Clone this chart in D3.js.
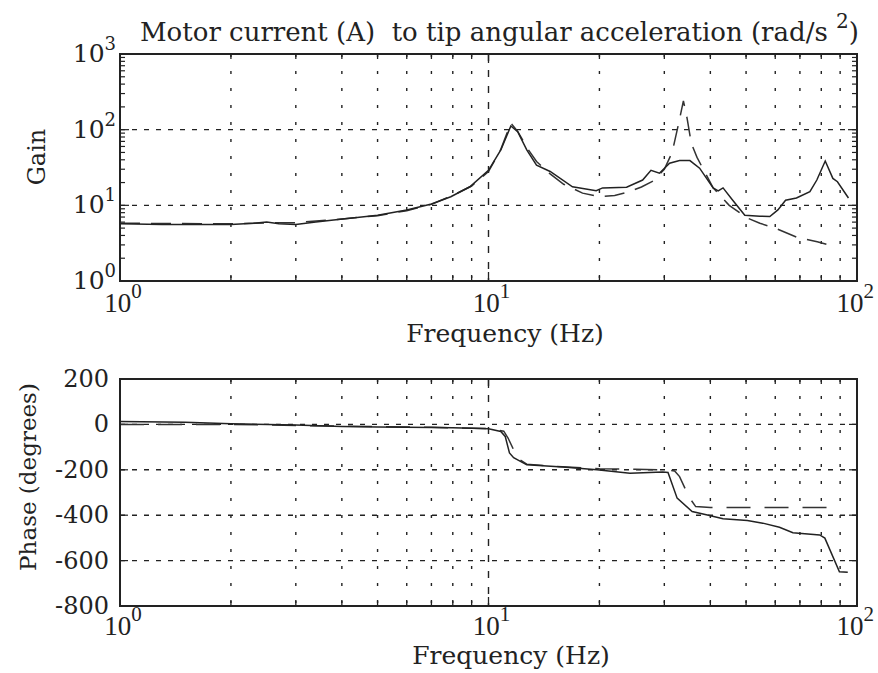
<!DOCTYPE html>
<html>
<head>
<meta charset="utf-8">
<script src="https://cdn.jsdelivr.net/npm/d3@7"></script>
<style>
body { margin: 0; background: #fff; }
</style>
</head>
<body>
<div id="chart"></div>
<script>

// measured gain (solid)
var freqGainMeas = [1.0, 1.3, 1.6, 2.0, 2.3, 2.5, 2.7, 3.0, 3.4, 3.8, 4.4, 5.0, 6.0, 7.0, 7.9, 8.9, 10.0, 10.8, 11.5, 12.0, 12.7, 13.5, 14.7, 16.9, 19.6, 20.4, 23.7, 26.2, 27.6, 29.1, 31, 33, 35.2, 37.4, 40.7, 42.0, 43.3, 46, 49.6, 54.5, 58, 61, 64, 68.5, 74.5, 77.8, 82, 86, 88.5, 94.8];
var gainMeas     = [5.7, 5.6, 5.6, 5.6, 5.8, 6.0, 5.7, 5.6, 6.0, 6.4, 6.9, 7.4, 8.7, 10.4, 13, 17.6, 29, 54, 112, 94, 54, 34, 28, 17.6, 15.6, 17, 17.4, 21.6, 29, 26.6, 36, 39, 39, 31, 17, 15.5, 17, 11.7, 7.4, 7.2, 7.1, 8.7, 11.7, 12.5, 15.2, 21.6, 38.5, 22.7, 20.5, 12.5];

// model gain (dashed)
var freqGainModel = [1.0, 2.0, 2.6, 3.0, 4.0, 5.0, 6.0, 7.0, 8.0, 9.0, 10.0, 10.8, 11.5, 12.0, 12.8, 13.5, 14.7, 16.0, 18.0, 20.0, 22.0, 24.0, 26.0, 28.0, 30.0, 31.5, 32.8, 33.8, 34.6, 35.5, 36.8, 40.7, 45, 50.4, 54.5, 60.6, 68.5, 78, 86];
var gainModel     = [5.8, 5.7, 5.9, 5.9, 6.6, 7.3, 8.5, 10.3, 13.5, 18, 28, 55, 122, 95, 55, 38, 26, 19, 14.5, 13, 13.5, 15, 17.5, 21, 30, 50, 120, 240, 140, 66, 43, 17, 10, 6.8, 5.8, 4.9, 3.8, 3.3, 2.9];

// measured phase (solid)
var freqPhaseMeas = [1.0, 1.5, 2.0, 3.0, 4.0, 5.0, 7.1, 8.0, 9.0, 10.0, 10.8, 11.1, 11.4, 11.7, 12.7, 15.9, 19.7, 24.2, 29.7, 30.7, 32.5, 35.7, 39, 43.3, 50.4, 55.5, 61.6, 67, 79.2, 81.8, 89.6, 94.4];
var phaseMeas     = [13, 10, 3, -3, -9, -11, -14, -15, -17, -19, -31, -53, -126, -147, -178, -188, -200, -215, -210, -212, -325, -384, -398, -416, -423, -435, -453, -477, -487, -501, -649, -651];

// model phase (dashed)
var freqPhaseModel = [1.0, 2.0, 4.0, 7.0, 10.0, 11.0, 11.3, 12.0, 12.7, 15, 20, 25, 30, 32.0, 33.0, 35.0, 36.5, 40, 60, 88];
var phaseModel     = [0, 0, -8, -13, -18, -30, -60, -150, -175, -185, -195, -198, -200, -205, -230, -320, -362, -366, -366, -366];

var gridFreqs = [2, 3, 4, 5, 6, 7, 8, 9, 10, 20, 30, 40, 50, 60, 70, 80, 90];
var gainGrid = [10, 100];
var phaseTicks = [200, 0, -200, -400, -600, -800];
var phaseGrid = [0, -200, -400, -600];

var W = 878, H = 673;
var left = 120, right = 857;
var ink = "#222";
var serifWide = "'DejaVu Serif', serif";
var serifNarrow = "'Liberation Serif', 'Times New Roman', serif";

var svg = d3.select("#chart").append("svg")
    .attr("width", W)
    .attr("height", H)
    .style("font-family", serifWide)
    .style("fill", ink);

var x = d3.scaleLog().domain([1, 100]).range([left, right]);
var yGain = d3.scaleLog().domain([1, 1000]).range([281, 54]);
var yPhase = d3.scaleLinear().domain([-800, 200]).range([606, 379]);

function frame(top, bottom, id) {
  var g = svg.append("g");
  svg.append("clipPath").attr("id", id)
    .append("rect").attr("x", left).attr("y", top).attr("width", right - left).attr("height", bottom - top);

  // vertical grid
  g.selectAll(".vg").data(gridFreqs).enter().append("line")
    .attr("x1", function(d) { return x(d); })
    .attr("x2", function(d) { return x(d); })
    .attr("y1", top).attr("y2", bottom)
    .style("stroke", ink).style("stroke-width", 1.4)
    .style("stroke-dasharray", function(d) { return d == 10 ? "7,9" : "3,14"; });

  // x ticks, bottom and top, pointing in
  [bottom, top].forEach(function(yy, i) {
    var dir = i == 0 ? -1 : 1;
    g.selectAll(null).data(gridFreqs).enter().append("line")
      .attr("x1", function(d) { return x(d); })
      .attr("x2", function(d) { return x(d); })
      .attr("y1", yy).attr("y2", function(d) { return yy + dir * (d == 10 ? 9 : 5); })
      .style("stroke", ink).style("stroke-width", 1.3);
  });
  return g;
}

// ---- top: gain
var g1 = frame(54, 281, "clip1");

g1.selectAll(".hg").data(gainGrid).enter().append("line")
  .attr("x1", left).attr("x2", right)
  .attr("y1", function(d) { return yGain(d); })
  .attr("y2", function(d) { return yGain(d); })
  .style("stroke", ink).style("stroke-width", 1.4)
  .style("stroke-dasharray", "5,7");

var gainMinor = [];
[1, 10, 100].forEach(function(dec) {
  for (var m = 2; m <= 9; m++) gainMinor.push(m * dec);
});
[left, right].forEach(function(xx, i) {
  var dir = i == 0 ? 1 : -1;
  g1.selectAll(null).data(gainMinor.concat(gainGrid)).enter().append("line")
    .attr("x1", xx)
    .attr("x2", function(d) { return xx + dir * (gainGrid.indexOf(d) >= 0 ? 9 : 5); })
    .attr("y1", function(d) { return yGain(d); })
    .attr("y2", function(d) { return yGain(d); })
    .style("stroke", ink).style("stroke-width", 1.2);
});

var gainLine = d3.line()
  .x(function(d) { return x(d[0]); })
  .y(function(d) { return yGain(d[1]); });

g1.append("path")
  .attr("d", gainLine(d3.zip(freqGainModel, gainModel)))
  .attr("clip-path", "url(#clip1)")
  .style("fill", "none").style("stroke", "#333").style("stroke-width", 1.5)
  .style("stroke-dasharray", "20,11");

g1.append("path")
  .attr("d", gainLine(d3.zip(freqGainMeas, gainMeas)))
  .attr("clip-path", "url(#clip1)")
  .style("fill", "none").style("stroke", "#222").style("stroke-width", 1.5);

g1.append("rect")
  .attr("x", left).attr("y", 54).attr("width", right - left).attr("height", 281 - 54)
  .style("fill", "none").style("stroke", ink).style("stroke-width", 2);

// ---- bottom: phase
var g2 = frame(379, 606, "clip2");

g2.selectAll(".hg").data(phaseGrid).enter().append("line")
  .attr("x1", left).attr("x2", right)
  .attr("y1", function(d) { return yPhase(d); })
  .attr("y2", function(d) { return yPhase(d); })
  .style("stroke", ink).style("stroke-width", 1.4)
  .style("stroke-dasharray", "5,7");

[left, right].forEach(function(xx, i) {
  var dir = i == 0 ? 1 : -1;
  g2.selectAll(null).data(phaseGrid).enter().append("line")
    .attr("x1", xx).attr("x2", xx + dir * 8)
    .attr("y1", function(d) { return yPhase(d); })
    .attr("y2", function(d) { return yPhase(d); })
    .style("stroke", ink).style("stroke-width", 1.2);
});

var phaseLine = d3.line()
  .x(function(d) { return x(d[0]); })
  .y(function(d) { return yPhase(d[1]); });

g2.append("path")
  .attr("d", phaseLine(d3.zip(freqPhaseModel, phaseModel)))
  .attr("clip-path", "url(#clip2)")
  .style("fill", "none").style("stroke", "#333").style("stroke-width", 1.5)
  .style("stroke-dasharray", "24,14");

g2.append("path")
  .attr("d", phaseLine(d3.zip(freqPhaseMeas, phaseMeas)))
  .attr("clip-path", "url(#clip2)")
  .style("fill", "none").style("stroke", "#222").style("stroke-width", 1.5);

g2.append("rect")
  .attr("x", left).attr("y", 379).attr("width", right - left).attr("height", 606 - 379)
  .style("fill", "none").style("stroke", ink).style("stroke-width", 2);

// ---- labels
function power(xx, yy, exp, anchor, font, size, sup, rise) {
  var t = svg.append("text")
    .attr("x", xx).attr("y", yy)
    .attr("text-anchor", anchor)
    .style("font-family", font)
    .style("font-size", size + "px");
  t.append("tspan").text("10");
  t.append("tspan").attr("dy", -rise).style("font-size", sup + "px").text(exp);
}

[1, 10, 100].forEach(function(d, i) {
  var ax = i == 2 ? W - 4 : x(d) + 3;
  var an = i == 2 ? "end" : "middle";
  power(ax, 312, i, an, serifNarrow, 27, 21, 14);
  power(ax, 635, i, an, serifNarrow, 27, 21, 14);
});
[1, 10, 100, 1000].forEach(function(d, i) {
  power(116, yGain(d) + 8, i, "end", serifWide, 25, 18, 12);
});

svg.selectAll(".pt").data(phaseTicks).enter().append("text")
  .attr("x", 109)
  .attr("y", function(d) { return yPhase(d) + 8; })
  .attr("text-anchor", "end")
  .style("font-size", "24px")
  .text(function(d) { return d; });

var title = svg.append("text")
  .attr("x", 140).attr("y", 41)
  .style("font-size", "26px")
  .style("white-space", "pre");
title.append("tspan").text("Motor current (A)  to tip angular acceleration (rad/s ");
title.append("tspan").attr("dy", -13).style("font-size", "20px").text("2");
title.append("tspan").attr("dy", 13).text(")");

svg.append("text")
  .attr("x", 505).attr("y", 342)
  .attr("text-anchor", "middle")
  .style("font-size", "25px")
  .text("Frequency (Hz)");

svg.append("text")
  .attr("x", 511).attr("y", 664)
  .attr("text-anchor", "middle")
  .style("font-size", "25px")
  .text("Frequency (Hz)");

svg.append("text")
  .attr("transform", "translate(45,157) rotate(-90)")
  .attr("text-anchor", "middle")
  .style("font-size", "24px")
  .text("Gain");

svg.append("text")
  .attr("transform", "translate(36,477) rotate(-90)")
  .attr("text-anchor", "middle")
  .style("font-size", "23px")
  .text("Phase (degrees)");

</script>
</body>
</html>
